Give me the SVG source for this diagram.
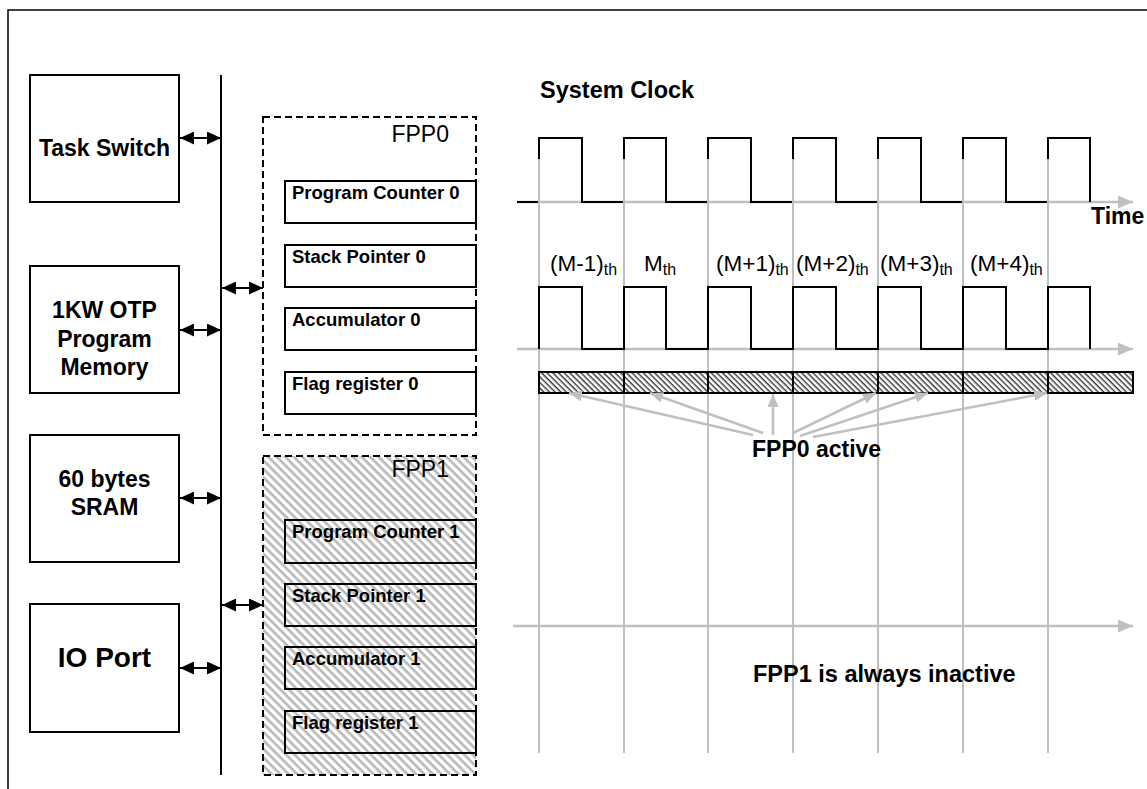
<svg xmlns="http://www.w3.org/2000/svg" width="1147" height="789" viewBox="0 0 1147 789">
<style>
text{font-family:"Liberation Sans",Arial,sans-serif;fill:#000}
.blk{fill:#fff;stroke:#000;stroke-width:2}
.bt{font-size:23px;font-weight:bold;text-anchor:middle}
.reg{fill:none;stroke:#000;stroke-width:2}
.rt{font-size:18.5px;font-weight:bold}
.fpp{stroke:#000;stroke-width:2;stroke-dasharray:7 4}
.lbl{font-size:22.5px}
.sub{font-size:16px}
.bold{font-size:23.5px;font-weight:bold}
.bus{stroke:#000;stroke-width:2;fill:none}
.dbl{stroke:#000;stroke-width:2;fill:none;marker-start:url(#ah);marker-end:url(#ah)}
.gl{stroke:#c0c0c0;stroke-width:2;fill:none}
.ga{stroke:#c0c0c0;stroke-width:2.5;fill:none;marker-end:url(#gh)}
.ax{stroke:#c0c0c0;stroke-width:2.5;fill:none;marker-end:url(#gx)}
.wave{stroke:#000;stroke-width:2;fill:none}
</style>
<defs>
<marker id="ah" markerUnits="userSpaceOnUse" markerWidth="14" markerHeight="13" refX="14" refY="6.5" orient="auto-start-reverse"><path d="M0,0 L14,6.5 L0,13 z" fill="#000"/></marker>
<marker id="gh" markerUnits="userSpaceOnUse" markerWidth="13" markerHeight="11" refX="13" refY="5.5" orient="auto"><path d="M0,0 L13,5.5 L0,11 z" fill="#c0c0c0"/></marker>
<marker id="gx" markerUnits="userSpaceOnUse" markerWidth="15" markerHeight="13" refX="15" refY="6.5" orient="auto"><path d="M0,0 L15,6.5 L0,13 z" fill="#c0c0c0"/></marker>
<pattern id="hatchG" patternUnits="userSpaceOnUse" width="6" height="6" patternTransform="rotate(45)"><rect width="6" height="6" fill="#fff"/><rect width="6" height="2.6" fill="#b8b8b8"/></pattern>
<pattern id="hatchB" patternUnits="userSpaceOnUse" width="4" height="4" patternTransform="rotate(45)"><rect width="4" height="4" fill="#fff"/><rect width="4" height="1.4" fill="#333"/></pattern>
</defs>
<rect x="0" y="0" width="1147" height="789" fill="#fff"/>
<rect x="8" y="10" width="1160" height="800" fill="none" stroke="#000" stroke-width="1.5"/>

<g id="task-switch"><rect class="blk" x="30" y="75" width="149" height="127"/><text class="bt" x="104.5" y="156">Task Switch</text></g>
<g id="otp-memory"><rect class="blk" x="30" y="266" width="149" height="127"/><text class="bt" x="104.5" y="318">1KW OTP</text><text class="bt" x="104.5" y="347">Program</text><text class="bt" x="104.5" y="375">Memory</text></g>
<g id="sram"><rect class="blk" x="30" y="435" width="149" height="127"/><text class="bt" x="104.5" y="487">60 bytes</text><text class="bt" x="104.5" y="515">SRAM</text></g>
<g id="io-port"><rect class="blk" x="30" y="604" width="149" height="128"/><text class="bt" x="104.5" y="667" style="font-size:28px">IO Port</text></g>

<g id="fpp0">
<rect class="fpp" x="263" y="117" width="213" height="318" fill="none"/>
<text class="lbl" x="449" y="142" text-anchor="end" style="font-size:23px">FPP0</text>
<rect class="reg" x="285" y="181" width="191" height="42"/><text class="rt" x="292" y="199">Program Counter 0</text>
<rect class="reg" x="285" y="245" width="191" height="42"/><text class="rt" x="292" y="263">Stack Pointer 0</text>
<rect class="reg" x="285" y="308" width="191" height="42"/><text class="rt" x="292" y="326">Accumulator 0</text>
<rect class="reg" x="285" y="372" width="191" height="42"/><text class="rt" x="292" y="390">Flag register 0</text>
</g>
<g id="fpp1">
<rect class="fpp" x="263" y="456" width="213" height="319" fill="url(#hatchG)"/>
<text class="lbl" x="449" y="477" text-anchor="end" style="font-size:23px">FPP1</text>
<rect class="reg" x="285" y="520" width="191" height="43"/><text class="rt" x="292" y="538">Program Counter 1</text>
<rect class="reg" x="285" y="584" width="191" height="42"/><text class="rt" x="292" y="602">Stack Pointer 1</text>
<rect class="reg" x="285" y="647" width="191" height="42"/><text class="rt" x="292" y="665">Accumulator 1</text>
<rect class="reg" x="285" y="711" width="191" height="42"/><text class="rt" x="292" y="729">Flag register 1</text>
</g>

<g id="connectors">
<line class="bus" x1="221" y1="75" x2="221" y2="775"/>
<line class="dbl" x1="180" y1="138" x2="221" y2="138"/>
<line class="dbl" x1="180" y1="330" x2="221" y2="330"/>
<line class="dbl" x1="180" y1="498" x2="221" y2="498"/>
<line class="dbl" x1="180" y1="668" x2="221" y2="668"/>
<line class="dbl" x1="222" y1="288" x2="263" y2="288"/>
<line class="dbl" x1="222" y1="605" x2="263" y2="605"/>
</g>

<g id="timing">
<text class="bold" x="540" y="98">System Clock</text>
<line class="ax" x1="517" y1="202" x2="1133" y2="202"/>
<line class="ax" x1="517" y1="349" x2="1133" y2="349"/>
<line class="ax" x1="513" y1="626" x2="1133" y2="626"/>
<path class="wave" d="M517,202 H539 V138 H582 V202 H624 V138 H666 V202 H708 V138 H751 V202 H793 V138 H836 V202 H878 V138 H921 V202 H963 V138 H1006 V202 H1048 V138 H1090 V202"/>
<g class="gl">
<line x1="539" y1="159" x2="539" y2="753"/>
<line x1="624" y1="159" x2="624" y2="753"/>
<line x1="708" y1="159" x2="708" y2="753"/>
<line x1="793" y1="159" x2="793" y2="753"/>
<line x1="878" y1="159" x2="878" y2="753"/>
<line x1="963" y1="159" x2="963" y2="753"/>
<line x1="1048" y1="159" x2="1048" y2="753"/>
</g>
<text class="bold" x="1091" y="224" style="font-size:23px">Time</text>
<path class="wave" d="M539,349 V287 H582 V349 H624 V287 H666 V349 H708 V287 H751 V349 H793 V287 H836 V349 H878 V287 H921 V349 H963 V287 H1006 V349 H1048 V287 H1090 V349"/>
<text class="lbl" x="550" y="271">(M-1)<tspan class="sub" dy="4">th</tspan></text>
<text class="lbl" x="644" y="271">M<tspan class="sub" dy="4">th</tspan></text>
<text class="lbl" x="716" y="271">(M+1)<tspan class="sub" dy="4">th</tspan></text>
<text class="lbl" x="796" y="271">(M+2)<tspan class="sub" dy="4">th</tspan></text>
<text class="lbl" x="880" y="271">(M+3)<tspan class="sub" dy="4">th</tspan></text>
<text class="lbl" x="970" y="271">(M+4)<tspan class="sub" dy="4">th</tspan></text>
<rect x="539" y="372" width="594" height="21" fill="url(#hatchB)" stroke="#000" stroke-width="2"/>
<path class="wave" d="M624,372 V393 M708,372 V393 M793,372 V393 M878,372 V393 M963,372 V393 M1048,372 V393"/>
<line class="ga" x1="753" y1="435" x2="569" y2="393"/>
<line class="ga" x1="763" y1="433" x2="650" y2="393"/>
<line class="ga" x1="773" y1="435" x2="773" y2="394"/>
<line class="ga" x1="793" y1="433" x2="876" y2="393"/>
<line class="ga" x1="800" y1="436" x2="928" y2="393"/>
<line class="ga" x1="813" y1="437" x2="1047" y2="393"/>
<text class="bold" x="752" y="457" style="font-size:23px">FPP0 active</text>
<text class="bold" x="753" y="682">FPP1 is always inactive</text>
</g>
</svg>
